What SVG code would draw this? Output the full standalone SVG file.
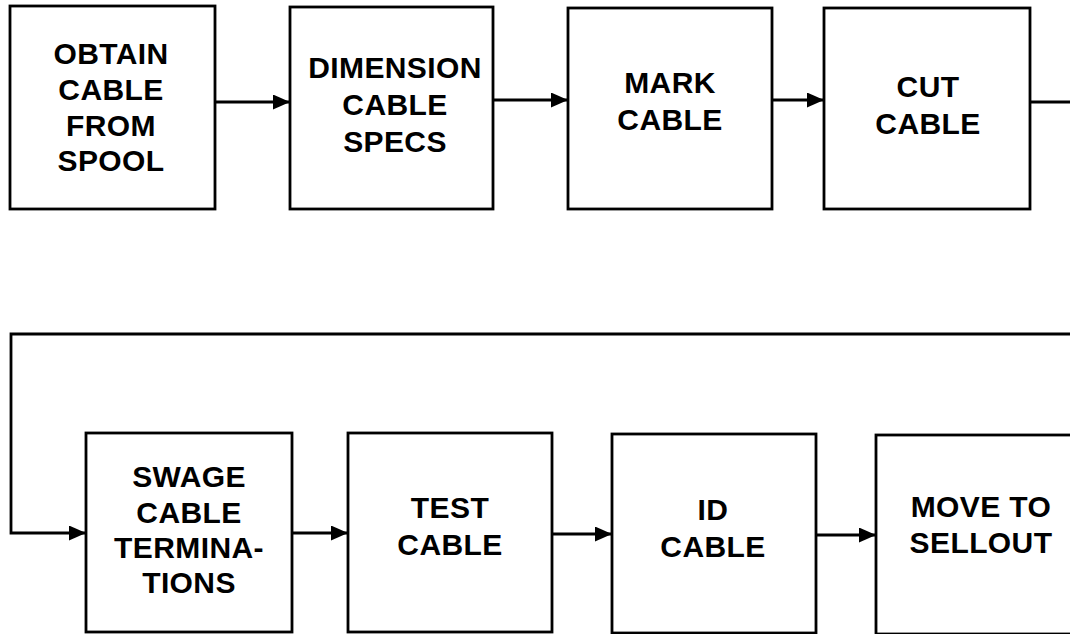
<svg xmlns="http://www.w3.org/2000/svg" width="1070" height="634" viewBox="0 0 1070 634">
  <style>
    .box { fill: #ffffff; stroke: #000000; stroke-width: 2.8; }
    .label { font-family: "Liberation Sans", Arial, Helvetica, sans-serif; font-weight: bold; font-size: 30px; letter-spacing: 0.4px; fill: #000000; text-anchor: middle; }
    .wire { fill: none; stroke: #000000; stroke-width: 2.8; }
  </style>
  <defs>
    <marker id="arrow" markerUnits="userSpaceOnUse" markerWidth="18" markerHeight="16" refX="17" refY="7.5" orient="auto">
      <path d="M0,0 L17,7.5 L0,15 Z" fill="#000000"/>
    </marker>
  </defs>
  <rect x="0" y="0" width="1070" height="634" fill="#ffffff"/>

  <!-- connectors -->
  <g id="connectors">
    <path class="wire" d="M215,102 H290" marker-end="url(#arrow)"/>
    <path class="wire" d="M493,100 H568" marker-end="url(#arrow)"/>
    <path class="wire" d="M772,100 H824" marker-end="url(#arrow)"/>
    <path class="wire" d="M1030,102 H1072"/>
    <path class="wire" d="M1072,334 H11 V533 H86" marker-end="url(#arrow)"/>
    <path class="wire" d="M292,533 H348" marker-end="url(#arrow)"/>
    <path class="wire" d="M552,534 H612" marker-end="url(#arrow)"/>
    <path class="wire" d="M816,535 H876" marker-end="url(#arrow)"/>
  </g>

  <!-- top row -->
  <g id="obtain">
    <rect class="box" x="10" y="6" width="205" height="203"/>
    <text class="label" x="111"><tspan x="111" y="64">OBTAIN</tspan><tspan x="111" y="100">CABLE</tspan><tspan x="111" y="136">FROM</tspan><tspan x="111" y="171">SPOOL</tspan></text>
  </g>
  <g id="dimension">
    <rect class="box" x="290" y="7" width="203" height="202"/>
    <text class="label" x="395"><tspan x="395" y="78">DIMENSION</tspan><tspan x="395" y="115">CABLE</tspan><tspan x="395" y="152">SPECS</tspan></text>
  </g>
  <g id="mark">
    <rect class="box" x="568" y="8" width="204" height="201"/>
    <text class="label" x="670"><tspan x="670" y="93">MARK</tspan><tspan x="670" y="130">CABLE</tspan></text>
  </g>
  <g id="cut">
    <rect class="box" x="824" y="8" width="206" height="201"/>
    <text class="label" x="928"><tspan x="928" y="97">CUT</tspan><tspan x="928" y="134">CABLE</tspan></text>
  </g>

  <!-- bottom row -->
  <g id="swage">
    <rect class="box" x="86" y="433" width="206" height="199"/>
    <text class="label" x="189"><tspan x="189" y="487">SWAGE</tspan><tspan x="189" y="523">CABLE</tspan><tspan x="189" y="558">TERMINA-</tspan><tspan x="189" y="593">TIONS</tspan></text>
  </g>
  <g id="test">
    <rect class="box" x="348" y="433" width="204" height="199"/>
    <text class="label" x="450"><tspan x="450" y="518">TEST</tspan><tspan x="450" y="555">CABLE</tspan></text>
  </g>
  <g id="id-cable">
    <rect class="box" x="612" y="434" width="204" height="199"/>
    <text class="label" x="713"><tspan x="713" y="520">ID</tspan><tspan x="713" y="557">CABLE</tspan></text>
  </g>
  <g id="move">
    <rect class="box" x="876" y="435" width="210" height="199"/>
    <text class="label" x="981"><tspan x="981" y="517">MOVE TO</tspan><tspan x="981" y="553">SELLOUT</tspan></text>
  </g>
</svg>
